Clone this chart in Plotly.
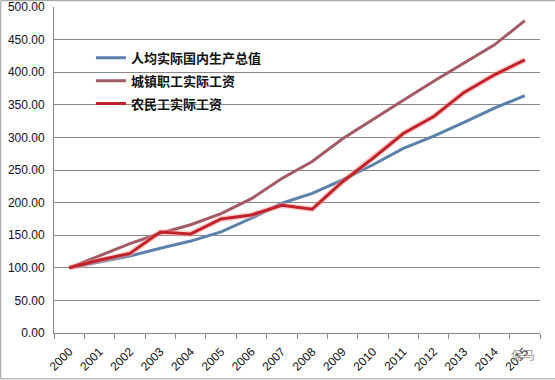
import plotly.graph_objects as go

years = [str(y) for y in range(2000, 2016)]
gdp_pc = [100, 109, 118, 130, 141, 155, 176, 199, 214, 235, 258, 283, 302, 323, 345, 364]
urban_wage = [100, 119, 137, 153, 166, 183, 206, 237, 263, 298, 328, 357, 386, 414, 442, 479]
migrant_wage = [100, 112, 122, 155, 152, 175, 181, 196, 190, 232, 268, 306, 332, 369, 396, 419]

names = ["人均实际国内生产总值", "城镇职工实际工资", "农民工实际工资"]
colors = ["#5A80AC", "#A25A64", "#C2232B"]

fig = go.Figure()
fig.add_trace(go.Scatter(x=years, y=gdp_pc, mode="lines", name=names[0], legendgroup="a",
                         line=dict(color=colors[0], width=3)))
fig.add_trace(go.Scatter(x=years, y=urban_wage, mode="lines", name=names[1], legendgroup="b",
                         line=dict(color=colors[1], width=3)))
fig.add_trace(go.Scatter(x=years, y=migrant_wage, mode="lines", showlegend=False,
                         hoverinfo="skip", line=dict(color="rgba(255,150,150,0.45)", width=6)))
fig.add_trace(go.Scatter(x=years, y=migrant_wage, mode="lines", name=names[2], legendgroup="c",
                         line=dict(color=colors[2], width=3)))

fig.update_layout(
    width=555, height=380,
    margin=dict(l=54, r=15, t=7, b=47, autoexpand=False),
    paper_bgcolor="white", plot_bgcolor="white",
    font=dict(family="Liberation Sans, Arial, sans-serif", color="#111"),
    legend=dict(x=0.076, y=0.89, xanchor="left", yanchor="top",
                bgcolor="rgba(0,0,0,0)", tracegroupgap=3,
                font=dict(family="Noto Sans CJK SC", size=13, color="#111", weight="bold"),
                itemwidth=30),
    xaxis=dict(type="category", range=[-0.5, 15.5], tickson="boundaries",
               automargin=False,
               showgrid=False, showline=True, linecolor="#8a8a8a", linewidth=1,
               ticks="outside", ticklen=5, tickcolor="#8a8a8a",
               tickangle=-45, ticklabelstandoff=6,
               tickfont=dict(size=12, color="#111")),
    yaxis=dict(range=[0, 500], dtick=50, tickformat=".2f", automargin=False,
               showgrid=True, gridcolor="#8a8a8a", gridwidth=1,
               showline=True, linecolor="#8a8a8a", linewidth=1,
               zeroline=False, ticks="", ticklabelstandoff=6,
               tickfont=dict(size=12, color="#111")),
    showlegend=True,
)

# outer chart border
fig.add_shape(type="rect", xref="paper", yref="paper",
              x0=-0.1096, x1=1.0594, y0=-0.1407, y1=1.0194,
              line=dict(color="#999", width=1), layer="below")

fig.add_annotation(text="保马", xref="paper", yref="paper", x=0.994, y=-0.065,
                   xanchor="right", yanchor="middle", showarrow=False,
                   font=dict(family="Noto Sans CJK SC", size=12, color="#999"))

fig.write_html("out.html", config={"displayModeBar": False},
               post_script="document.body.style.margin='0';")
